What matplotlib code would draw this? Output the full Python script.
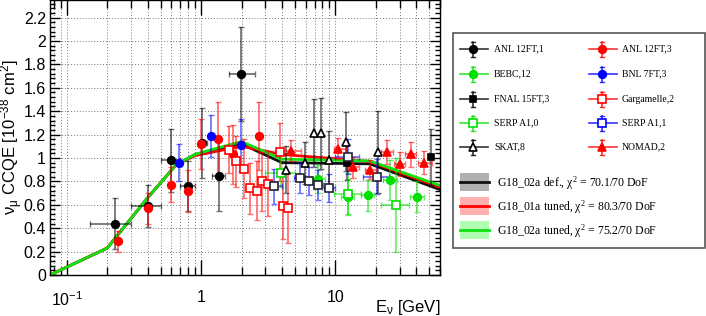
import numpy as np
import matplotlib
matplotlib.use('Agg')
import matplotlib.pyplot as plt
from matplotlib.ticker import FixedLocator, FixedFormatter, MultipleLocator, LogLocator, NullFormatter
from matplotlib.patches import Rectangle

plt.rcParams['font.family'] = ['Liberation Sans', 'DejaVu Sans']
plt.rcParams['mathtext.fontset'] = 'custom'
plt.rcParams['mathtext.rm'] = 'Liberation Sans'
plt.rcParams['mathtext.it'] = 'Liberation Sans:italic'
plt.rcParams['mathtext.default'] = 'regular'

# ---------------- model curves ----------------
curve_E = [0.075, 0.2, 0.4, 0.65, 0.9, 1.1, 2.0, 4.0, 18.0, 60.0]
g18_02a_def = [0.0, 0.23, 0.66, 0.94, 1.03, 1.05, 1.12, 0.96, 0.95, 0.73]
g18_01a_tuned = [0.0, 0.23, 0.66, 0.94, 1.02, 1.04, 1.10, 1.03, 0.97, 0.75]
g18_02a_tuned = [0.0, 0.23, 0.66, 0.94, 1.03, 1.06, 1.14, 0.99, 0.975, 0.765]
model_labels = ['G18_02a def., χ$^{2}$ = 70.1/70 DoF',
                'G18_01a tuned, χ$^{2}$ = 80.3/70 DoF',
                'G18_02a tuned, χ$^{2}$ = 75.2/70 DoF']

# ---------------- data sets ----------------
# ANL 12FT,1
anl1_E = [0.23, 0.40, 0.60, 0.80, 1.02, 1.35, 1.97]
anl1_Elo = [0.15, 0.30, 0.50, 0.70, 0.95, 1.20, 1.60]
anl1_Ehi = [0.30, 0.50, 0.70, 0.90, 1.10, 1.50, 2.50]
anl1_val = [0.44, 0.59, 0.98, 0.76, 1.13, 0.85, 1.72]
anl1_err = [0.22, 0.18, 0.27, 0.21, 0.30, 0.30, 0.40]
# ANL 12FT,3
anl3_E = [0.24, 0.40, 0.60, 0.80, 1.00, 1.34, 1.72, 2.68]
anl3_val = [0.29, 0.57, 0.77, 0.72, 1.12, 1.16, 1.03, 1.19]
anl3_err = [0.09, 0.13, 0.15, 0.18, 0.21, 0.32, 0.25, 0.29]
# BEBC,12
bebc_E = [7.4, 12.3, 17.4, 25.4, 40.6]
bebc_Elo = [6.6, 11.0, 15.5, 22.5, 36.0]
bebc_Ehi = [8.3, 13.8, 19.5, 28.5, 45.5]
bebc_val = [0.82, 0.67, 0.68, 0.81, 0.67]
bebc_err = [0.12, 0.15, 0.13, 0.17, 0.13]
# BNL 7FT,3
bnl_E = [0.69, 1.18, 1.97]
bnl_val = [0.96, 1.19, 1.11]
bnl_err = [0.16, 0.18, 0.22]
# FNAL 15FT,3
fnal_E = [12.1, 51.0]
fnal_val = [0.96, 1.01]
fnal_err = [0.15, 0.24]
# Gargamelle,2
garg_E = [1.60, 1.83, 2.10, 2.33, 2.60, 2.85, 3.15, 3.85, 4.05, 4.45]
garg_val = [1.07, 0.97, 0.91, 0.74, 0.72, 0.80, 0.78, 1.05, 0.59, 0.57]
garg_err = [0.20, 0.22, 0.25, 0.22, 0.25, 0.25, 0.28, 0.25, 0.28, 0.30]
# SERP A1,0
serp0_E = [3.9, 12.4, 28.0]
serp0_Elo = [3.0, 9.8, 22.0]
serp0_Ehi = [5.0, 15.5, 35.0]
serp0_val = [0.87, 0.69, 0.60]
serp0_err = [0.12, 0.18, 0.40]
# SERP A1,1
serp1_E = [3.5, 5.46, 6.4, 7.45, 9.0, 12.4, 20.5]
serp1_Elo = [3.0, 4.9, 5.9, 6.9, 8.2, 10.0, 16.0]
serp1_Ehi = [4.0, 5.9, 6.9, 8.1, 10.0, 15.0, 25.0]
serp1_val = [0.76, 0.83, 0.80, 0.77, 0.74, 1.01, 0.84]
serp1_err = [0.15, 0.13, 0.12, 0.13, 0.12, 0.15, 0.15]
# SKAT,8
skat_E = [4.3, 5.95, 6.9, 7.85, 9.0, 11.9, 20.7]
skat_val = [0.90, 0.96, 1.21, 1.21, 0.98, 1.14, 1.05]
skat_err = [0.20, 0.18, 0.29, 0.30, 0.25, 0.25, 0.35]
# NOMAD,2
nomad_E = [4.7, 10.4, 13.6, 18.0, 24.2, 30.3, 36.6, 45.8]
nomad_Elo = [4.0, 9.7, 12.5, 16.5, 22.0, 27.5, 33.0, 41.0]
nomad_Ehi = [5.5, 11.9, 15.0, 20.0, 27.0, 33.0, 40.0, 52.0]
nomad_val = [1.06, 1.08, 0.92, 0.90, 1.05, 0.95, 1.03, 0.96]
nomad_err = [0.09, 0.09, 0.09, 0.08, 0.10, 0.10, 0.11, 0.10]

RED = '#ff0000'
GREEN = '#00e000'
BLUE = '#0000ff'
BLACK = '#000000'

datasets = [
    # label, E, Elo, Ehi, val, err, barcolor, marker, facecolor, edgecolor, ms
    ('ANL 12FT,1', anl1_E, anl1_Elo, anl1_Ehi, anl1_val, anl1_err, BLACK, 'o', BLACK, BLACK, 5.5),
    ('ANL 12FT,3', anl3_E, None, None, anl3_val, anl3_err, RED, 'o', RED, RED, 5.5),
    ('BEBC,12', bebc_E, bebc_Elo, bebc_Ehi, bebc_val, bebc_err, GREEN, 'o', GREEN, GREEN, 5.5),
    ('BNL 7FT,3', bnl_E, None, None, bnl_val, bnl_err, BLUE, 'o', BLUE, BLUE, 5.5),
    ('FNAL 15FT,3', fnal_E, None, None, fnal_val, fnal_err, BLACK, 's', BLACK, BLACK, 5),
    ('Gargamelle,2', garg_E, None, None, garg_val, garg_err, RED, 's', 'white', RED, 5.5),
    ('SERP A1,0', serp0_E, serp0_Elo, serp0_Ehi, serp0_val, serp0_err, GREEN, 's', 'white', GREEN, 5.5),
    ('SERP A1,1', serp1_E, serp1_Elo, serp1_Ehi, serp1_val, serp1_err, BLUE, 's', 'white', '#222233', 5.5),
    ('SKAT,8', skat_E, None, None, skat_val, skat_err, BLACK, '^', 'white', BLACK, 5.5),
    ('NOMAD,2', nomad_E, nomad_Elo, nomad_Ehi, nomad_val, nomad_err, RED, '^', RED, RED, 5.5),
]
legend_edge = {'SERP A1,1': BLUE}

W, H = 706, 316
fig = plt.figure(figsize=(W / 100, H / 100), dpi=100)
ax = fig.add_axes([50 / W, (H - 275) / H, 390 / W, 275 / H])

# curves
ax.plot(curve_E, g18_02a_def, color='#111111', lw=2.0, zorder=2)
ax.plot(curve_E, g18_01a_tuned, color=RED, lw=2.0, zorder=2.1)
ax.plot(curve_E, g18_02a_tuned, color='#11e011', lw=2.0, zorder=2.2)

# data
for (lab, E, Elo, Ehi, val, err, bc, mk, fc, ec, ms) in datasets:
    E = np.array(E)
    if Elo is not None:
        xerr = [E - np.array(Elo), np.array(Ehi) - E]
    else:
        xerr = None
    ax.errorbar(E, val, yerr=err, xerr=xerr, fmt='none', ecolor=bc, elinewidth=1.3,
                capsize=2, capthick=1.0, alpha=0.55, zorder=3)
    ax.plot(E, val, ls='none', marker=mk, mfc=fc, mec=ec, ms=ms, mew=1.2, zorder=4)

ax.set_xscale('log')
ax.set_xlim(0.075, 60)
ax.set_ylim(0, 2.35)

ax.xaxis.set_major_locator(FixedLocator([0.1, 1, 10]))
ax.xaxis.set_major_formatter(FixedFormatter([r'$10^{-1}$', '1', '10']))
ax.xaxis.set_minor_locator(LogLocator(base=10, subs=np.arange(2, 10)))
ax.xaxis.set_minor_formatter(NullFormatter())
ax.yaxis.set_minor_locator(MultipleLocator(0.04))
ax.set_yticks(np.arange(0, 2.21, 0.2))
ax.set_yticklabels(['0', '0.2', '0.4', '0.6', '0.8', '1', '1.2', '1.4', '1.6', '1.8', '2', '2.2'])

ax.tick_params(axis='both', which='both', direction='in', top=True, right=True, width=1.0)
ax.tick_params(axis='x', which='major', length=11, pad=11, labelsize=11.5)
ax.tick_params(axis='x', which='minor', length=6)
ax.tick_params(axis='y', which='major', length=7, pad=3, labelsize=11.5)
ax.tick_params(axis='y', which='minor', length=3.5)

ax.grid(True, which='major', axis='y', ls=(0, (1, 2)), color='#777777', lw=0.7)
ax.grid(True, which='both', axis='x', ls=(0, (1, 2)), color='#777777', lw=0.7)
ax.set_axisbelow(True)
for s in ax.spines.values():
    s.set_linewidth(1.0)

ax.set_ylabel(r'$\nu_{\mu}$ CCQE [10$^{-38}$ cm$^{2}$]', fontsize=12)
ax.yaxis.set_label_coords(-0.064, 0.5)
ax.text(1.0, -0.085, r'E$_{\nu}$ [GeV]', transform=ax.transAxes, ha='right', va='top', fontsize=12)

# ---------------- legend (pixel coordinates) ----------------
lax = fig.add_axes([0, 0, 1, 1])
lax.set_xlim(0, W)
lax.set_ylim(H, 0)
lax.axis('off')
lax.patch.set_alpha(0)
lax.add_patch(Rectangle((453, 33), 252, 215, fill=False, ec='#555555', lw=1.2))

col_x = [473, 602]
text_x = [494, 622]
row_y = [49, 74, 99, 123, 147]
for i, (lab, E, Elo, Ehi, val, err, bc, mk, fc, ec, ms) in enumerate(datasets):
    c = i % 2
    r = i // 2
    x0, y0 = col_x[c], row_y[r]
    lax.plot([x0 - 13, x0 + 15], [y0, y0], color=bc, lw=1.2, alpha=0.8)
    lax.plot([x0, x0], [y0 - 7.5, y0 + 7.5], color=bc, lw=1.2, alpha=0.8)
    lax.plot([x0 - 2, x0 + 2], [y0 - 7.5, y0 - 7.5], color=bc, lw=1.0, alpha=0.8)
    lax.plot([x0 - 2, x0 + 2], [y0 + 7.5, y0 + 7.5], color=bc, lw=1.0, alpha=0.8)
    lax.plot([x0], [y0], marker=mk, mfc=fc, mec=legend_edge.get(lab, ec), ms=ms, mew=1.2, ls='none')
    lax.text(text_x[c], y0, lab, family='Liberation Serif', fontsize=7, va='center', ha='left')

model_y = [182, 206, 230]
model_line = ['#111111', RED, '#11e011']
model_fill = ['#b0b0b0', '#ffb0b0', '#b0ffb0']
for y0, lc, fcol, lab in zip(model_y, model_line, model_fill, model_labels):
    lax.add_patch(Rectangle((460, y0 - 9), 29, 18, fc=fcol, ec='none'))
    lax.plot([460, 489], [y0, y0], color=lc, lw=2.0)
    lax.text(497, y0 + 1, lab, family='Liberation Serif', fontsize=8.5, va='center', ha='left')

fig.savefig('out.png', dpi=100)
